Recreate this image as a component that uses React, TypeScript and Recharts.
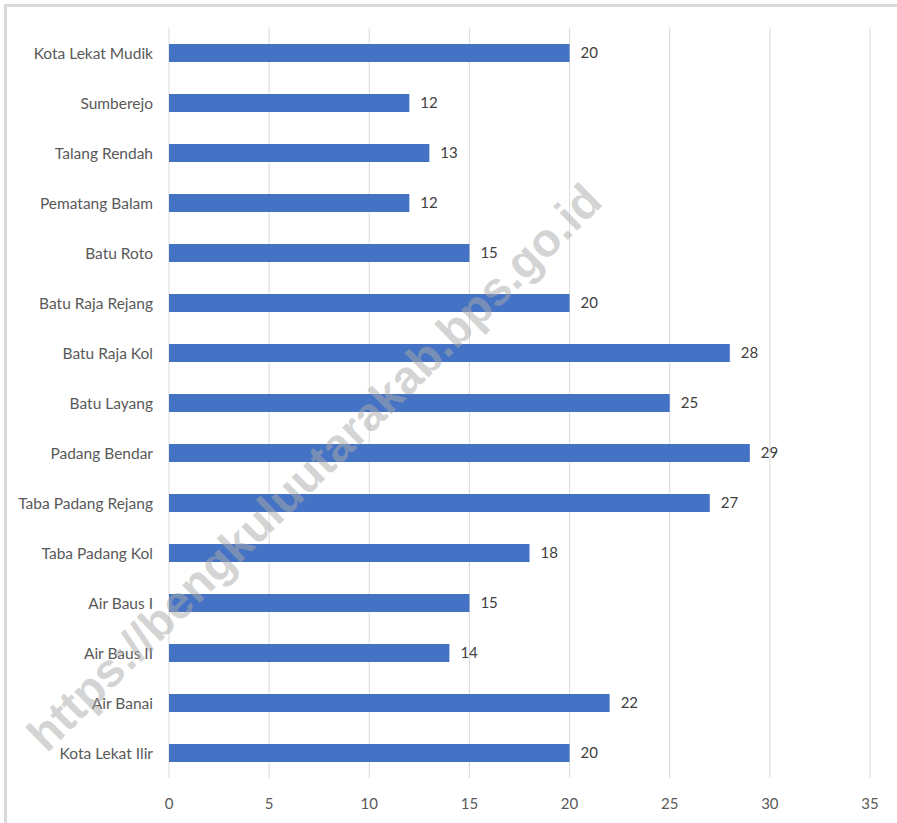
import { BarChart, Bar, XAxis, YAxis, CartesianGrid, LabelList } from 'recharts';

const desa = [
  'Kota Lekat Mudik',
  'Sumberejo',
  'Talang Rendah',
  'Pematang Balam',
  'Batu Roto',
  'Batu Raja Rejang',
  'Batu Raja Kol',
  'Batu Layang',
  'Padang Bendar',
  'Taba Padang Rejang',
  'Taba Padang Kol',
  'Air Baus I',
  'Air Baus II',
  'Air Banai',
  'Kota Lekat Ilir',
];
const jumlah = [20, 12, 13, 12, 15, 20, 28, 25, 29, 27, 18, 15, 14, 22, 20];
const xTicks = [0, 5, 10, 15, 20, 25, 30, 35];

const FONT = 'Lato, "Open Sans", sans-serif';

export default function App() {
  const data = desa.map((name, i) => ({ name, value: jumlah[i] }));

  return (
    <div style={{ position: 'absolute', left: 0, top: 0, width: 897, height: 823, overflow: 'hidden', background: '#fff' }}>
      {/* bingkai abu-abu */}
      <div
        style={{
          position: 'absolute',
          left: 4,
          top: 4,
          width: 1000,
          height: 1000,
          border: '3px solid #dadada',
        }}
      />
      <div style={{ position: 'absolute', left: 0, top: 0 }}>
        <BarChart
          width={897}
          height={823}
          data={data}
          layout="vertical"
          margin={{ top: 28, right: 27, bottom: 15, left: 0 }}
          barSize={18}
        >
          <CartesianGrid horizontal={false} stroke="#d9d9d9" />
          <XAxis
            type="number"
            domain={[0, 35]}
            ticks={xTicks}
            axisLine={false}
            tickLine={false}
            tickMargin={14}
            height={30}
            tick={{ fill: '#595959', fontSize: 15, fontFamily: FONT }}
          />
          <YAxis
            type="category"
            dataKey="name"
            width={169}
            axisLine={false}
            tickLine={false}
            tickMargin={10}
            interval={0}
            tick={{ fill: '#595959', fontSize: 15.5, fontFamily: FONT }}
          />
          <Bar dataKey="value" fill="#4472C4" isAnimationActive={false}>
            <LabelList
              dataKey="value"
              position="right"
              offset={11}
              fill="#404040"
              fontSize={15}
              fontFamily={FONT}
            />
          </Bar>
        </BarChart>
      </div>
      {/* watermark */}
      <div
        style={{
          position: 'absolute',
          left: 314,
          top: 467,
          transform: 'translate(-50%, -50%) rotate(-44.6deg)',
          whiteSpace: 'nowrap',
          fontFamily: '"Liberation Sans", Arial, sans-serif',
          fontWeight: 'bold',
          fontSize: 47,
          lineHeight: 1,
          color: 'rgba(170,170,170,0.5)',
          pointerEvents: 'none',
        }}
      >
        https://bengkuluutarakab.bps.go.id
      </div>
    </div>
  );
}
